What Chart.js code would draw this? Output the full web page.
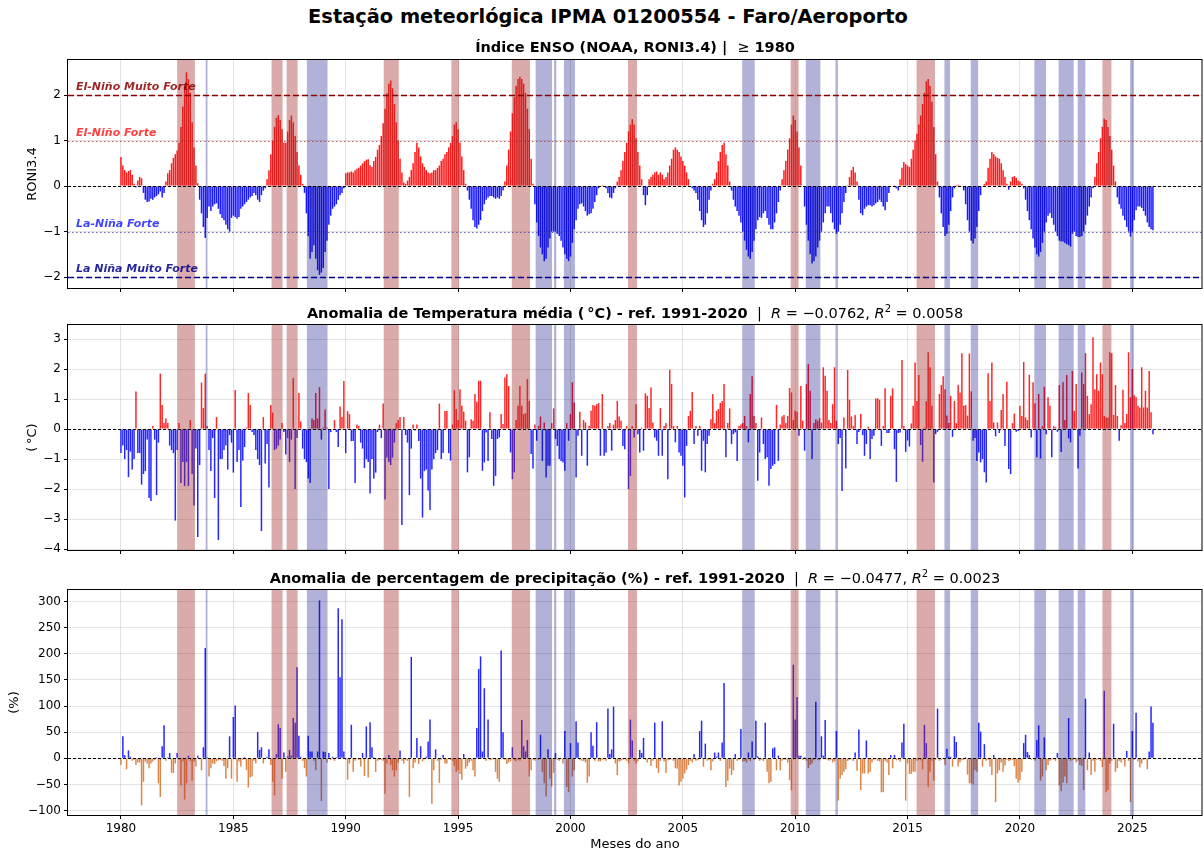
<!DOCTYPE html>
<html>
<head>
<meta charset="utf-8">
<script src="https://cdn.jsdelivr.net/npm/chart.js@4.4.1/dist/chart.umd.min.js"></script>
<style>
  body { margin: 0; background: #fff; width: 1203px; height: 852px; position: relative; overflow: hidden; font-family: "DejaVu Sans", sans-serif; }
  #title { position: absolute; top: 5px; left: 0; width: 1216px; text-align: center; font-weight: bold; font-size: 19.4px; color: #000; }
  canvas { position: absolute; left: 0; }
</style>
</head>
<body>
<div id="title">Estação meteorlógica IPMA 01200554 - Faro/Aeroporto</div>
<canvas id="c1" width="1203" height="300" style="top:0px"></canvas>
<canvas id="c2" width="1203" height="262" style="top:300px"></canvas>
<canvas id="c3" width="1203" height="290" style="top:562px"></canvas>
<script>
// monthly series, Jan 1980 .. Dec 2025
const startYear = 1980;

// RONI3.4 index (NOAA)
const roni = [
  0.64, 0.45, 0.35, 0.30, 0.33, 0.35, 0.25, 0.05, -0.03, 0.12, 0.20, 0.17,
  -0.15, -0.30, -0.35, -0.34, -0.28, -0.30, -0.25, -0.22, -0.18, -0.12, -0.25, -0.15,
  0.10, 0.28, 0.35, 0.50, 0.62, 0.70, 0.78, 0.95, 1.30, 1.75, 2.20, 2.50,
  2.35, 2.05, 1.40, 0.85, 0.45, 0.06, -0.30, -0.60, -0.90, -1.14, -0.70, -0.45,
  -0.55, -0.45, -0.40, -0.38, -0.50, -0.62, -0.70, -0.75, -0.85, -0.95, -1.00, -0.70,
  -0.65, -0.68, -0.72, -0.68, -0.50, -0.45, -0.40, -0.35, -0.30, -0.25, -0.22, -0.15,
  -0.20, -0.30, -0.35, -0.20, -0.10, -0.05, 0.15, 0.35, 0.70, 1.00, 1.30, 1.50,
  1.56, 1.45, 1.25, 0.95, 0.95, 1.20, 1.45, 1.55, 1.40, 1.10, 0.75, 0.45,
  0.25, 0.05, -0.15, -0.60, -1.10, -1.60, -1.45, -1.30, -1.60, -1.85, -1.95, -1.90,
  -1.80, -1.45, -1.20, -0.85, -0.65, -0.50, -0.45, -0.40, -0.30, -0.20, -0.15, -0.05,
  0.28, 0.30, 0.30, 0.32, 0.30, 0.35, 0.38, 0.40, 0.45, 0.50, 0.55, 0.58,
  0.59, 0.46, 0.42, 0.55, 0.64, 0.80, 0.90, 1.10, 1.38, 1.70, 2.04, 2.25,
  2.32, 2.15, 1.80, 1.40, 1.00, 0.60, 0.30, 0.08, 0.05, 0.12, 0.20, 0.35,
  0.50, 0.75, 0.95, 0.85, 0.65, 0.50, 0.42, 0.35, 0.30, 0.28, 0.30, 0.35,
  0.35, 0.40, 0.45, 0.55, 0.60, 0.70, 0.75, 0.85, 0.95, 1.10, 1.35, 1.41,
  1.25, 0.95, 0.65, 0.35, 0.05, -0.10, -0.30, -0.50, -0.75, -0.90, -0.93, -0.85,
  -0.75, -0.55, -0.40, -0.30, -0.25, -0.22, -0.22, -0.25, -0.28, -0.25, -0.28, -0.22,
  -0.10, 0.10, 0.45, 0.80, 1.20, 1.60, 1.95, 2.20, 2.35, 2.40, 2.35, 2.25,
  2.05, 1.70, 1.25, 0.60, 0.05, -0.40, -0.80, -1.10, -1.35, -1.50, -1.65, -1.60,
  -1.35, -1.15, -1.00, -1.00, -1.00, -1.05, -1.10, -1.20, -1.35, -1.50, -1.60, -1.65,
  -1.55, -1.25, -0.95, -0.75, -0.50, -0.40, -0.38, -0.45, -0.55, -0.65, -0.62, -0.60,
  -0.50, -0.35, -0.20, -0.05, 0.00, 0.02, 0.00, -0.05, -0.15, -0.25, -0.27, -0.15,
  -0.05, 0.10, 0.20, 0.35, 0.55, 0.75, 0.95, 1.20, 1.35, 1.47, 1.35, 1.05,
  0.75, 0.45, 0.15, -0.20, -0.42, -0.20, 0.15, 0.20, 0.25, 0.30, 0.32, 0.25,
  0.30, 0.25, 0.15, 0.20, 0.30, 0.45, 0.60, 0.80, 0.85, 0.80, 0.75, 0.65,
  0.55, 0.45, 0.30, 0.15, 0.00, -0.05, -0.10, -0.15, -0.30, -0.55, -0.75, -0.90,
  -0.85, -0.60, -0.30, -0.10, 0.05, 0.15, 0.30, 0.55, 0.75, 0.90, 0.95, 0.70,
  0.45, 0.10, -0.10, -0.30, -0.45, -0.55, -0.65, -0.80, -1.00, -1.20, -1.40, -1.55,
  -1.60, -1.45, -1.20, -0.95, -0.75, -0.68, -0.70, -0.60, -0.55, -0.70, -0.85, -0.95,
  -0.95, -0.80, -0.60, -0.35, -0.10, 0.15, 0.35, 0.55, 0.80, 1.05, 1.35, 1.55,
  1.45, 1.20, 0.85, 0.45, 0.00, -0.45, -0.85, -1.20, -1.50, -1.70, -1.65, -1.55,
  -1.35, -1.20, -1.00, -0.80, -0.60, -0.45, -0.45, -0.60, -0.80, -0.95, -1.05, -1.00,
  -0.85, -0.60, -0.35, -0.15, 0.02, 0.20, 0.35, 0.42, 0.30, 0.10, -0.30, -0.60,
  -0.64, -0.50, -0.45, -0.42, -0.42, -0.45, -0.42, -0.38, -0.35, -0.30, -0.35, -0.45,
  -0.53, -0.35, -0.15, 0.00, 0.00, 0.02, -0.05, -0.10, 0.15, 0.40, 0.53, 0.48,
  0.45, 0.42, 0.60, 0.80, 1.00, 1.15, 1.35, 1.55, 1.80, 2.05, 2.30, 2.35,
  2.20, 1.85, 1.30, 0.70, 0.10, -0.25, -0.60, -0.90, -1.10, -1.05, -0.85, -0.55,
  -0.25, -0.05, 0.02, 0.03, 0.02, 0.00, -0.10, -0.40, -0.75, -1.00, -1.20, -1.26,
  -1.15, -0.90, -0.55, -0.20, 0.00, 0.05, 0.10, 0.40, 0.60, 0.75, 0.70, 0.65,
  0.62, 0.60, 0.50, 0.35, 0.20, 0.05, -0.08, 0.10, 0.20, 0.22, 0.18, 0.12,
  0.10, 0.05, -0.05, -0.30, -0.55, -0.75, -0.95, -1.15, -1.35, -1.50, -1.55, -1.45,
  -1.25, -1.00, -0.80, -0.65, -0.60, -0.70, -0.85, -1.00, -1.10, -1.20, -1.22, -1.22,
  -1.25, -1.28, -1.30, -1.33, -1.05, -1.00, -1.10, -1.12, -1.12, -1.10, -1.00, -0.85,
  -0.65, -0.45, -0.25, -0.05, 0.20, 0.50, 0.75, 1.05, 1.30, 1.48, 1.45, 1.30,
  1.10, 0.80, 0.45, 0.10, -0.25, -0.40, -0.50, -0.65, -0.75, -0.90, -1.00, -1.11,
  -1.00, -0.75, -0.53, -0.45, -0.45, -0.48, -0.55, -0.65, -0.80, -0.90, -0.95, -0.97
];

// mean temperature anomaly (°C), ref. 1991-2020
const tempAnom = [
  -0.8, -0.55, -1.0, -0.7, -1.6, -0.75, -1.35, -1.0, 1.25, -0.8, -0.8, -1.85,
  -1.5, -1.4, -0.35, -2.3, -2.4, 0.1, -0.35, -2.2, -0.45, 1.85, 0.8, 0.2,
  0.35, 0.2, -0.55, -0.7, -0.8, -3.05, -0.7, 0.2, -1.8, -1.1, -1.9, -1.1,
  -1.9, 0.3, -1.5, -2.55, -0.65, -3.6, -1.2, 1.55, 0.7, 1.85, 0.1, -0.7,
  -1.4, -0.3, -2.3, 0.4, -3.7, -1.0, -1.0, -0.7, -0.55, -1.35, -0.2, -0.45,
  -1.45, 1.3, -1.1, -0.7, -2.6, -1.05, -0.6, 0.05, 1.2, 0.8, -0.1, -0.2,
  -0.7, -1.0, -1.2, -3.4, 0.4, -1.15, -0.5, -1.95, 0.8, 0.55, -0.7, -0.65,
  -0.55, -0.35, 0.2, -0.1, -0.85, -0.3, -1.1, -0.35, 1.7, -2.0, -0.3, 1.2,
  0.25, -0.65, -1.0, -1.1, -1.65, -1.8, 0.35, 0.3, 1.2, 0.35, 1.4, -0.35,
  0.05, 0.65, 0.05, -2.0, -0.1, 0.0, 0.3, -0.1, -0.6, 0.75, 0.4, 1.6,
  -0.8, 0.6, 0.5, -0.4, -0.4, -1.8, 0.15, 0.1, -0.45, -0.65, -1.3, -1.0,
  -1.1, -2.15, -1.0, -1.65, -1.45, -0.1, 0.15, -0.3, 0.85, -2.35, -0.95, -1.1,
  -1.2, -0.95, -0.45, 0.2, 0.3, 0.4, -3.2, 0.4, -0.2, -0.45, -2.2, -0.65,
  0.15, -0.05, 0.15, -0.4, -1.65, -2.95, -1.4, -1.35, -2.05, -2.7, -1.35, -1.0,
  -0.8, -0.7, 0.85, -1.0, -0.8, 0.6, 0.6, -0.8, -1.05, 0.15, 1.3, 0.67,
  0.3, 1.33, 0.78, 0.58, 0.28, -1.44, -0.94, 0.33, 0.28, 1.17, 0.91, 1.61,
  1.61, -1.39, -1.11, -0.11, -1.06, 0.56, -0.33, -1.89, -1.56, -0.33, -0.28, 0.5,
  0.17, 1.72, 1.83, 1.44, -0.78, -1.67, -1.44, 0.3, 0.78, 1.44, 0.78, 0.5,
  0.53, 1.67, 0.94, -0.83, -1.31, 0.15, -0.39, 0.11, 0.42, -1.06, 0.22, -1.61,
  -1.22, -1.22, 0.2, 0.69, -0.33, -0.56, -1.0, -1.06, -1.11, -1.39, 0.2, -0.39,
  0.5, 1.56, 0.89, -1.61, -0.22, 0.58, -0.89, 0.3, 0.22, -1.22, 0.1, 0.61,
  0.8, 0.78, 0.83, 0.87, -0.89, 1.17, -0.89, -0.78, 0.1, 0.2, -0.72, 0.15,
  0.3, 0.94, 0.42, 0.28, -0.56, -0.67, 0.1, -2.0, -1.56, 0.1, -0.28, 0.83,
  -0.17, -0.78, 0.05, -0.72, 1.19, 1.11, 0.7, 1.39, 0.22, -0.28, -0.39, -0.89,
  0.7, -0.89, 0.1, 0.2, -1.67, 1.98, 1.5, 0.1, -0.44, 0.1, -0.78, -0.89,
  -1.22, -2.28, -0.56, 0.44, 0.61, 1.24, -0.5, 0.1, -0.22, 0.11, -1.39, -0.39,
  -1.44, -0.5, -0.22, 0.33, 1.17, 0.2, 0.61, 0.67, 0.87, 0.94, 1.5, -0.94,
  0.2, 0.69, -0.5, -0.17, -0.11, -1.06, 0.1, 0.15, 0.2, 0.44, 0.1, -0.44,
  1.17, 1.76, 0.44, 0.2, -1.72, -0.78, 0.39, -0.5, -1.0, -0.94, -1.89, -1.33,
  -1.22, -1.17, 0.81, -1.06, 0.15, 0.42, 0.47, 0.2, 0.44, 1.37, 1.22, 0.3,
  0.61, 0.58, -0.22, 1.44, 0.28, -0.72, 1.5, 2.17, 1.28, -1.0, 0.2, 0.33,
  0.28, 0.36, 0.22, 2.06, 1.78, 1.28, 0.3, 0.2, 0.83, 2.06, 0.28, -0.5,
  -0.3, -2.06, 0.39, -1.31, 1.97, 0.98, 0.42, 0.1, 0.47, -0.5, -0.1, 0.5,
  -0.2, -0.89, -0.5, 0.08, -1.0, -0.33, -0.22, 1.02, 1.03, 0.98, -0.56, 0.1,
  1.36, -0.13, -0.13, 1.11, 1.36, -0.67, -1.76, -0.13, -0.11, 2.3, 0.1, -0.76,
  -0.38, -0.58, 0.19, 0.78, 2.22, 0.94, 1.8, -0.53, -1.09, 0.05, 0.93, 2.56,
  2.06, 0.78, -1.78, -0.17, -0.09, 1.17, 1.47, 1.76, 1.33, 0.45, 0.2, 1.11,
  -0.26, 0.94, 0.2, 1.48, 1.22, 2.53, 0.78, 0.8, 0.45, 2.52, 1.26, -0.39,
  -0.3, -1.06, -0.78, -1.11, -1.0, -1.44, -1.78, 1.86, 0.94, 2.22, 0.22, -0.24,
  0.22, -0.13, 0.64, 1.17, -0.56, 1.58, -1.33, -1.5, 0.2, 0.52, -0.09, -0.06,
  0.78, 0.44, 2.24, 0.39, 0.3, 1.81, -0.28, 1.56, 0.86, -0.94, 1.17, -0.98,
  0.1, 1.41, -0.17, 1.06, 0.78, -0.94, 0.1, 0.06, -0.09, 1.47, -0.76, 1.56,
  0.3, 1.8, -0.31, -0.44, 1.94, 0.61, 1.5, -1.31, -0.22, 1.89, 1.5, 2.53,
  1.11, 0.5, 0.83, 3.06, 1.33, 1.83, 1.28, 2.22, 1.83, 0.44, 0.39, 0.39,
  2.56, 2.53, 0.47, 1.47, 0.44, -0.39, 0.13, 1.31, 0.2, 0.5, 2.56, 1.06,
  2.0, 1.13, 1.06, 0.78, 0.72, 2.06, 0.72, 1.28, 0.72, 1.94, 0.56, -0.17
];

// precipitation anomaly (%), ref. 1991-2020
const precAnom = [
  -13, 42, 6, -21, 15, 3, -5, -3, -13, -8, -8, -90,
  -45, -6, -10, -19, -10, -6, -3, 2, -48, -74, 23, 63,
  -5, 2, 10, -28, -28, -10, 10, -3, -52, -6, -79, -48,
  5, -5, -43, -6, -16, 5, -2, -23, 21, 211, 2, -35,
  -19, -10, -11, -6, -4, -3, -5, -15, -39, -19, 42, -39,
  79, 101, -45, -6, -16, -3, 2, -23, -56, -37, -35, -5,
  -10, 50, 16, 21, -10, -2, 3, 17, -13, -45, -71, 8,
  65, 58, -39, 11, -26, 4, 16, 5, 77, 68, 174, 43,
  3, -5, -19, -35, 43, 13, 13, -5, -23, 13, 302, -82,
  13, 12, -8, 10, -3, 3, -5, 2, 287, 155, 266, 13,
  -3, -41, -10, 64, -26, -5, -2, -3, -16, 10, -34, 61,
  -37, 69, 21, 2, -26, -5, -3, -3, -5, -68, -10, 6,
  -13, -23, -35, -23, -8, 15, -5, -10, -3, -5, -74, 194,
  -19, -8, 39, -11, 23, -6, -2, 3, 32, 74, -87, -23,
  17, -5, -47, -3, 6, -10, -10, -2, -3, -5, -15, -26,
  -23, -30, -41, 8, -20, -15, -8, -5, -23, -35, 58, 171,
  195, 13, 134, -5, 74, -4, -3, -2, -26, -39, -45, 206,
  50, -3, -11, -8, -6, 21, -4, -6, -3, -5, 73, 23,
  13, 35, -35, -23, -3, -5, -2, -3, 45, -26, -48, -73,
  17, -39, -54, -28, 10, -3, -5, -2, -10, 52, -55, -65,
  29, -35, -23, 71, 30, -3, -5, -5, -8, -47, -35, 50,
  24, -5, 69, -6, -6, -3, -2, -5, 95, 8, 17, 99,
  -10, -32, -6, -5, -3, -2, -5, -10, 74, 34, -5, -10,
  -6, 16, 10, 39, -3, -8, -2, -15, -5, 68, -19, -28,
  -5, 71, -6, -28, -4, -3, -2, -5, -19, -20, -52, -45,
  -39, -29, -22, -13, -5, -8, 8, -5, -4, 52, 72, -16,
  28, -5, -3, -23, -6, 11, 3, 11, -5, 30, 144, -55,
  -43, -20, -32, -23, 8, -5, -3, 56, -6, -5, -8, 11,
  -5, 32, -3, 72, 4, -5, -3, -5, 68, -26, -48, -45,
  19, 21, -23, 5, -23, -5, -3, -3, -8, -42, -61, 179,
  74, 117, 5, 5, -3, 2, -5, -19, -13, -10, -4, 108,
  -3, -4, 42, 5, 73, -3, -5, -3, -8, -6, 52, -81,
  -39, -32, -26, -21, -5, -3, -2, -5, 11, -24, 55, -61,
  -29, -29, 34, -29, -26, -8, -3, -2, -5, -6, -65, -65,
  -5, -8, -32, 6, -19, 6, -4, -3, -6, 30, 66, -81,
  -10, -30, -30, -26, -26, -5, -3, -4, -21, 64, 29, -55,
  -26, -5, -43, -3, 95, -5, -3, -2, -13, 18, 3, 3,
  -16, 42, 31, -16, -8, -4, -3, 2, -31, -48, -48, -50,
  -23, -26, 68, 51, -16, 27, -5, -3, -16, -32, 6, -84,
  -29, -23, -8, -26, -14, -3, -5, -4, -3, -15, -39, -47,
  -42, -26, 29, 45, 12, 6, -3, -2, -5, 35, 63, -43,
  -35, 40, -23, -13, -5, -3, -2, -5, 10, -52, -63, -47,
  -35, -48, 77, -5, -3, -2, -8, -5, -13, -15, -61, 114,
  -23, 11, -32, -5, -26, -3, -2, -5, -17, 129, -65, -61,
  -10, -5, 66, -26, -19, -5, -8, -3, -16, 14, -5, -84,
  52, -3, 87, -6, -17, -10, -3, -2, -21, 13, 99, 68
];

// shaded ENSO episodes [start, end] in decimal years
const elNinoBands = [
  [1982.50, 1983.29], [1986.70, 1987.19], [1987.37, 1987.86], [1991.69, 1992.36],
  [1994.70, 1995.04], [1997.39, 1998.20], [2002.56, 2002.96], [2009.80, 2010.15],
  [2015.40, 2016.22], [2023.67, 2024.07]
];
const laNinaBands = [
  [1983.77, 1983.85], [1988.27, 1989.19], [1998.45, 1999.18], [1999.27, 1999.37],
  [1999.71, 2000.20], [2007.64, 2008.20], [2010.47, 2011.12], [2011.79, 2011.90],
  [2016.64, 2016.89], [2017.81, 2018.14], [2020.64, 2021.16], [2021.72, 2022.39],
  [2022.57, 2022.91], [2024.90, 2025.07]
];

// threshold lines of the ENSO panel
const roniLevels = [2, 1, -1, -2];
const roniLevelNames = ['El-Niño Muito Forte', 'El-Niño Forte', 'La-Niña Forte', 'La Niña Muito Forte'];

const FONT = '"DejaVu Sans", sans-serif';
const GRID = 'rgba(176,176,176,0.35)';
const X_MIN = 1977.643, X_MAX = 2028.10;

const levelStyle = [
  { color: '#8b0000', dash: [6, 3], width: 1.5, text: 'rgba(139,0,0,0.85)' },
  { color: 'rgba(165,42,42,0.75)', dash: [1.5, 2.5], width: 1.2, text: 'rgba(255,30,30,0.85)' },
  { color: 'rgba(60,60,160,0.75)', dash: [1.5, 2.5], width: 1.2, text: 'rgba(30,30,255,0.85)' },
  { color: '#00008b', dash: [6, 3], width: 1.5, text: 'rgba(0,0,139,0.85)' }
];

function richText(ctx, parts, cx, baseY) {
  let total = 0;
  parts.forEach(p => { ctx.font = p.font; p.w = ctx.measureText(p.t).width; total += p.w; });
  let x = cx - total / 2;
  ctx.textAlign = 'left';
  ctx.textBaseline = 'alphabetic';
  ctx.fillStyle = '#000';
  parts.forEach(p => { ctx.font = p.font; ctx.fillText(p.t, x, baseY + (p.dy || 0)); x += p.w; });
}

function decor(cfg) {
  return {
    id: 'decor_' + cfg.id,
    afterDatasetsDraw(chart) {
      const { ctx, chartArea: a, scales } = chart;
      const xs = scales.x, ys = scales.y;
      ctx.save();
      ctx.beginPath();
      ctx.rect(a.left, a.top, a.right - a.left, a.bottom - a.top);
      ctx.clip();
      const band = (list, col) => {
        ctx.fillStyle = col;
        list.forEach(b => {
          const x1 = xs.getPixelForValue(b[0]), x2 = xs.getPixelForValue(b[1]);
          ctx.fillRect(x1, a.top, x2 - x1, a.bottom - a.top);
        });
      };
      band(elNinoBands, 'rgba(165,42,42,0.4)');
      band(laNinaBands, 'rgba(0,0,128,0.3)');

      // zero line
      const y0 = Math.round(ys.getPixelForValue(0)) + 0.5;
      ctx.strokeStyle = '#000';
      ctx.lineWidth = 1;
      ctx.setLineDash([3, 2]);
      ctx.beginPath(); ctx.moveTo(a.left, y0); ctx.lineTo(a.right, y0); ctx.stroke();

      if (cfg.levels) {
        roniLevels.forEach((lv, i) => {
          const st = levelStyle[i];
          const y = Math.round(ys.getPixelForValue(lv)) + 0.5;
          ctx.strokeStyle = st.color; ctx.lineWidth = st.width; ctx.setLineDash(st.dash);
          ctx.beginPath(); ctx.moveTo(a.left, y); ctx.lineTo(a.right, y); ctx.stroke();
          ctx.font = 'italic bold 11px ' + FONT;
          ctx.fillStyle = st.text;
          ctx.textAlign = 'left'; ctx.textBaseline = 'middle';
          ctx.fillText(roniLevelNames[i], a.left + 8, y - 8.5);
        });
      }
      ctx.restore();

      // frame
      ctx.save();
      ctx.strokeStyle = '#000'; ctx.lineWidth = 1; ctx.setLineDash([]);
      ctx.strokeRect(a.left - 0.5, a.top - 0.5, a.right - a.left + 0.5, a.bottom - a.top + 1);

      // title
      const cx = (a.left + a.right) / 2;
      richText(ctx, cfg.title, cx, a.top - cfg.titleGap);

      // y label
      ctx.font = '13px ' + FONT;
      ctx.fillStyle = '#000';
      ctx.textAlign = 'center'; ctx.textBaseline = 'middle';
      ctx.translate(cfg.yLabelX, (a.top + a.bottom) / 2);
      ctx.rotate(-Math.PI / 2);
      ctx.fillText(cfg.yLabel, 0, 0);
      ctx.restore();

      if (cfg.xTitle) {
        ctx.save();
        ctx.font = '13px ' + FONT;
        ctx.fillStyle = '#000';
        ctx.textAlign = 'center'; ctx.textBaseline = 'middle';
        ctx.fillText(cfg.xTitle, cx, a.bottom + 30);
        ctx.restore();
      }
    }
  };
}

function panel(canvasId, cfg) {
  const pts = cfg.values.map((v, i) => ({ x: startYear + i / 12, y: v }));
  return new Chart(document.getElementById(canvasId), {
    type: 'bar',
    data: {
      datasets: [{
        data: pts,
        backgroundColor: c => (c.raw && c.raw.y >= 0) ? cfg.pos : cfg.neg,
        borderWidth: 0,
        barPercentage: 0.8,
        categoryPercentage: 1.0
      }]
    },
    options: {
      responsive: false,
      animation: false,
      devicePixelRatio: 1,
      layout: { padding: { top: cfg.padTop, right: 1, left: 0, bottom: 0 } },
      plugins: { legend: { display: false }, tooltip: { enabled: false } },
      scales: {
        x: {
          type: 'linear', min: X_MIN, max: X_MAX, offset: false,
          afterFit: s => { s.height = cfg.xHeight; },
          ticks: {
            stepSize: 5, includeBounds: false, autoSkip: false, maxRotation: 0, padding: 3,
            font: { family: FONT, size: 12 }, color: '#000',
            callback: v => cfg.xLabels ? String(v) : ''
          },
          grid: { color: GRID, tickColor: '#000', tickLength: 4, offset: false },
          border: { display: false }
        },
        y: {
          min: cfg.yMin, max: cfg.yMax,
          afterFit: s => { s.width = 68; },
          ticks: {
            stepSize: cfg.yStep, includeBounds: false, padding: 3,
            font: { family: FONT, size: 12 }, color: '#000',
            callback: v => String(v).replace('-', '\u2212')
          },
          grid: { color: GRID, tickColor: '#000', tickLength: 4 },
          border: { display: false }
        }
      }
    },
    plugins: [decor(cfg)]
  });
}

const B13 = 'bold 14.5px ' + FONT, N13 = '14.5px ' + FONT, I13 = 'italic 14.5px ' + FONT, N9 = '10px ' + FONT;

panel('c1', {
  id: 'enso', values: roni, pos: 'rgba(255,0,0,0.9)', neg: 'rgba(0,0,255,0.9)',
  padTop: 60, xHeight: 12, yMin: -2.24, yMax: 2.77, yStep: 1,
  levels: true, yLabel: 'RONI3.4', yLabelX: 33, titleGap: 8,
  title: [{ t: 'Índice ENSO (NOAA, RONI3.4) |  ', font: B13 }, { t: '≥', font: N13 }, { t: ' 1980', font: B13 }]
});

panel('c2', {
  id: 'temp', values: tempAnom, pos: 'rgba(255,0,0,0.85)', neg: 'rgba(0,0,255,0.85)',
  padTop: 25, xHeight: 12, yMin: -4.03, yMax: 3.47, yStep: 1,
  yLabel: '(\u2009°C)', yLabelX: 33, titleGap: 7,
  title: [
    { t: 'Anomalia de Temperatura média (\u2009°C) - ref. 1991-2020', font: B13 },
    { t: '  |  ', font: N13 }, { t: 'R', font: I13 }, { t: ' = \u22120.0762, ', font: N13 },
    { t: 'R', font: I13 }, { t: '2', font: N9, dy: -6 }, { t: ' = 0.0058', font: N13 }
  ]
});

panel('c3', {
  id: 'prec', values: precAnom, pos: 'rgba(0,0,255,0.85)', neg: 'rgba(210,105,30,0.8)',
  padTop: 28, xHeight: 37, yMin: -108.6, yMax: 322, yStep: 50, xLabels: true,
  yLabel: '(%)', yLabelX: 15, titleGap: 7, xTitle: 'Meses do ano',
  title: [
    { t: 'Anomalia de percentagem de precipitação (%) - ref. 1991-2020', font: B13 },
    { t: '  |  ', font: N13 }, { t: 'R', font: I13 }, { t: ' = \u22120.0477, ', font: N13 },
    { t: 'R', font: I13 }, { t: '2', font: N9, dy: -6 }, { t: ' = 0.0023', font: N13 }
  ]
});
</script>
</body>
</html>
